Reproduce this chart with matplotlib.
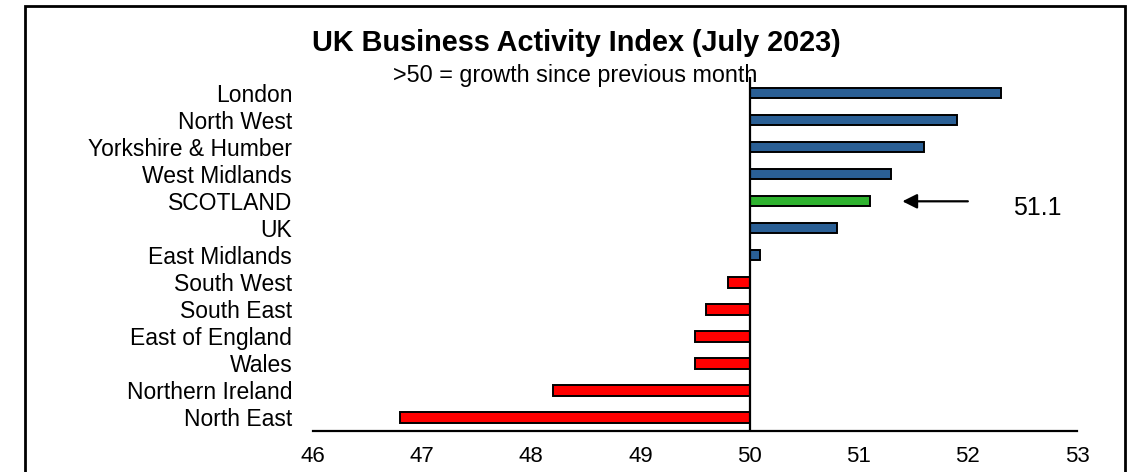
import matplotlib
matplotlib.use("Agg")
import matplotlib.pyplot as plt
from matplotlib.patches import Rectangle

plt.rcParams['font.family'] = ['Liberation Sans', 'DejaVu Sans']

# Regions ordered top to bottom
regions = ["London", "North West", "Yorkshire & Humber", "West Midlands",
           "SCOTLAND", "UK", "East Midlands", "South West", "South East",
           "East of England", "Wales", "Northern Ireland", "North East"]
index_values = [52.3, 51.9, 51.6, 51.3, 51.1, 50.8, 50.1,
                49.8, 49.6, 49.5, 49.5, 48.2, 46.8]
x_ticks = [46, 47, 48, 49, 50, 51, 52, 53]
baseline = 50
highlight = "SCOTLAND"

BLUE = "#2A5F95"
GREEN = "#2EB22E"
RED = "#FF0000"

fig = plt.figure(figsize=(11.34, 4.72), dpi=100)
ax = fig.add_axes([313 / 1134, 1 - 431 / 472, (1077 - 313) / 1134, (431 - 77) / 472])

colors = []
for name, v in zip(regions, index_values):
    if name == highlight:
        colors.append(GREEN)
    elif v >= baseline:
        colors.append(BLUE)
    else:
        colors.append(RED)

ypos = list(range(len(regions)))
widths = [v - baseline for v in index_values]
ax.barh(ypos, widths, left=baseline, height=0.38, color=colors,
        edgecolor="black", linewidth=1.4, zorder=2)

ax.set_xlim(x_ticks[0], x_ticks[-1])
ax.set_ylim(12.5, -0.6)
ax.set_xticks(x_ticks)
ax.set_xticklabels([str(t) for t in x_ticks], fontsize=16)
ax.set_yticks(ypos)
ax.set_yticklabels(regions, fontsize=16.5)
ax.tick_params(axis="both", length=0)
ax.tick_params(axis="x", pad=11)
ax.tick_params(axis="y", pad=15)

for side in ("left", "right", "top"):
    ax.spines[side].set_visible(False)
ax.spines["bottom"].set_linewidth(1.6)

# vertical axis crossing at 50
ax.axvline(baseline, color="black", linewidth=1.6, zorder=3)

# highlight arrow and value
hi = regions.index(highlight)
ax.annotate("", xy=(51.4, hi), xytext=(52.0, hi),
            arrowprops=dict(arrowstyle="-|>", color="black", lw=1.6,
                            mutation_scale=22, shrinkA=0, shrinkB=0))
ax.text(52.41, hi + 0.24, f"{index_values[hi]}", fontsize=18,
        ha="left", va="center")

# Title and subtitle
fig.text(576.5 / 1134, 1 - 43 / 472, "UK Business Activity Index (July 2023)",
         fontsize=20.8, fontweight="bold", ha="center", va="center")
fig.text(575 / 1134, 1 - 75.5 / 472, ">50 = growth since previous month",
         fontsize=16.8, ha="center", va="center")

# Outer frame
fig.patches.append(Rectangle((25 / 1134, -0.01), (1125 - 25) / 1134, (472 - 6) / 472 + 0.01,
                             transform=fig.transFigure, fill=False,
                             edgecolor="black", linewidth=2))

fig.savefig("out.png", dpi=100)
